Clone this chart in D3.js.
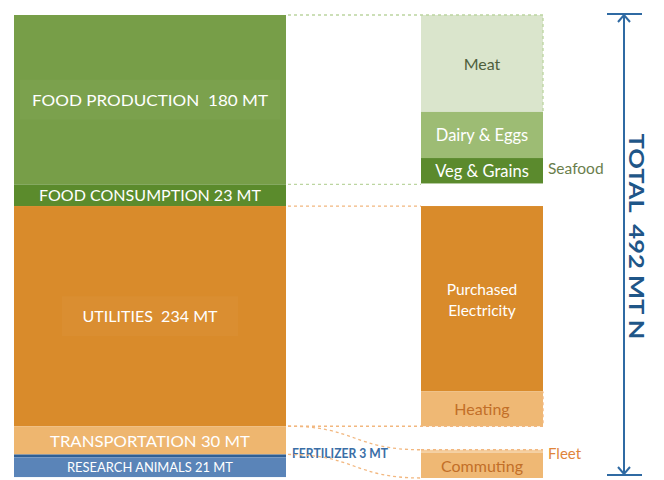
<!DOCTYPE html>
<html>
<head>
<meta charset="utf-8">
<script src="https://cdn.jsdelivr.net/npm/d3@7/dist/d3.min.js"></script>
<style>
  html, body { margin: 0; padding: 0; background: #ffffff; }
  svg { display: block; }
  text { font-family: "Lato", "Open Sans", "DejaVu Sans", sans-serif; white-space: pre; }
</style>
</head>
<body>
<svg id="chart" width="664" height="480"></svg>
<script>
// ---------------- DATA ----------------
const total = 492;
const totalLabel = "TOTAL  492 MT N";

const leftCategories = ["FOOD PRODUCTION", "FOOD CONSUMPTION", "UTILITIES", "TRANSPORTATION", "FERTILIZER", "RESEARCH ANIMALS"];
const leftValues = [180, 23, 234, 30, 3, 21];
const leftLabels = ["FOOD PRODUCTION  180 MT", "FOOD CONSUMPTION 23 MT", "UTILITIES  234 MT", "TRANSPORTATION 30 MT", "FERTILIZER 3 MT", "RESEARCH ANIMALS 21 MT"];

const foodSubCategories = ["Meat", "Dairy & Eggs", "Veg & Grains", "Seafood"];
const foodSubValues = [103, 49, 27, 1];

const utilSubCategories = ["Purchased Electricity", "Heating"];
const utilSubValues = [197, 37];

const transSubCategories = ["Fleet", "Commuting"];
const transSubValues = [3, 27];

(function () {
// ---------------- STYLE ----------------
const leftColors = {
  "FOOD PRODUCTION": "#779e48",
  "FOOD CONSUMPTION": "#5b8b2c",
  "UTILITIES": "#d98b2b",
  "TRANSPORTATION": "#eeb66f",
  "FERTILIZER": "#2f5f95",
  "RESEARCH ANIMALS": "#5a84b8"
};
const rightColors = {
  "Meat": "#dae5cc",
  "Dairy & Eggs": "#9dbc74",
  "Veg & Grains": "#5b8a2d",
  "Seafood": "#4e7d25",
  "Purchased Electricity": "#d98b2b",
  "Heating": "#efb874",
  "Fleet": "#f5cfa0",
  "Commuting": "#efb874"
};
const greenDash = "#bcd5a0";
const orangeDash = "#f2b77f";

// ---------------- LAYOUT ----------------
const svg = d3.select("#chart");
const y = d3.scaleLinear().domain([0, total]).range([15, 478]);
const leftX0 = 14, leftX1 = 286;
const rightX0 = 421, rightX1 = 543;

function stack(cats, vals, start) {
  let acc = start;
  return cats.map((c, i) => {
    const d = { cat: c, v: vals[i], y0: acc, y1: acc + vals[i] };
    acc += vals[i];
    return d;
  });
}

const leftStack = stack(leftCategories, leftValues, 0);
leftStack.forEach((d, i) => d.label = leftLabels[i]);
const byCat = Object.fromEntries(leftStack.map(d => [d.cat, d]));

const foodStack = stack(foodSubCategories, foodSubValues, byCat["FOOD PRODUCTION"].y0);
const utilStack = stack(utilSubCategories, utilSubValues, byCat["UTILITIES"].y0);
const transTotal = d3.sum(transSubValues);
const transStack = stack(transSubCategories, transSubValues, total - transTotal);
const rightStack = foodStack.concat(utilStack, transStack);

// ---------------- LEFT BAR ----------------
svg.append("g").selectAll("rect")
  .data(leftStack)
  .join("rect")
  .attr("x", leftX0)
  .attr("width", leftX1 - leftX0)
  .attr("y", d => y(d.y0))
  .attr("height", d => Math.max(1.5, y(d.y1) - y(d.y0)))
  .attr("fill", d => leftColors[d.cat]);

// subtle label boxes
const boxCats = ["FOOD PRODUCTION", "UTILITIES"];
const boxW = { "FOOD PRODUCTION": 260, "UTILITIES": 176 };
svg.append("g").selectAll("rect")
  .data(boxCats.map(c => byCat[c]))
  .join("rect")
  .attr("x", d => (leftX0 + leftX1) / 2 - boxW[d.cat] / 2)
  .attr("width", d => boxW[d.cat])
  .attr("y", d => y((d.y0 + d.y1) / 2) - 20)
  .attr("height", 40)
  .attr("fill", "#ffffff")
  .attr("opacity", 0.03);

// left labels
const leftLabelStyle = {
  "FOOD PRODUCTION": { size: 15.5, len: 236 },
  "FOOD CONSUMPTION": { size: 15, len: 222 },
  "UTILITIES": { size: 15.5, len: 135 },
  "TRANSPORTATION": { size: 16, len: 200 },
  "RESEARCH ANIMALS": { size: 13, len: 166 }
};
svg.append("g").selectAll("text")
  .data(leftStack.filter(d => leftLabelStyle[d.cat]))
  .join("text")
  .attr("x", (leftX0 + leftX1) / 2)
  .attr("y", d => y((d.y0 + d.y1) / 2))
  .attr("text-anchor", "middle")
  .attr("dominant-baseline", "central")
  .attr("fill", "#ffffff")
  .attr("font-size", d => leftLabelStyle[d.cat].size)
  .attr("textLength", d => leftLabelStyle[d.cat].len)
  .attr("lengthAdjust", "spacingAndGlyphs")
  .text(d => d.label);

// fertilizer label (outside)
const fert = byCat["FERTILIZER"];
svg.append("text")
  .attr("x", leftX1 + 6)
  .attr("y", y((fert.y0 + fert.y1) / 2) - 3)
  .attr("dominant-baseline", "central")
  .attr("fill", "#3a6ea6")
  .attr("font-size", 13)
  .attr("font-weight", "bold")
  .attr("textLength", 96)
  .attr("lengthAdjust", "spacingAndGlyphs")
  .text(fert.label);

// ---------------- RIGHT BAR ----------------
svg.append("g").selectAll("rect")
  .data(rightStack.filter(d => d.cat !== "Seafood"))
  .join("rect")
  .attr("x", rightX0)
  .attr("width", rightX1 - rightX0)
  .attr("y", d => y(d.y0))
  .attr("height", d => y(d.y1) - y(d.y0))
  .attr("fill", d => rightColors[d.cat]);

const rightLabelStyle = {
  "Meat": { fill: "#4f5f3c", size: 16 },
  "Dairy & Eggs": { fill: "#ffffff", size: 16.5 },
  "Veg & Grains": { fill: "#ffffff", size: 16.5 },
  "Purchased Electricity": { fill: "#ffffff", size: 15.5, lines: ["Purchased", "Electricity"] },
  "Heating": { fill: "#c26f28", size: 16 },
  "Commuting": { fill: "#c26f28", size: 16 }
};
const rl = svg.append("g").selectAll("text")
  .data(rightStack.filter(d => rightLabelStyle[d.cat]))
  .join("text")
  .attr("x", (rightX0 + rightX1) / 2)
  .attr("y", d => y((d.y0 + d.y1) / 2))
  .attr("text-anchor", "middle")
  .attr("dominant-baseline", "central")
  .attr("fill", d => rightLabelStyle[d.cat].fill)
  .attr("font-size", d => rightLabelStyle[d.cat].size);
rl.each(function(d) {
  const s = rightLabelStyle[d.cat];
  const t = d3.select(this);
  if (s.lines) {
    s.lines.forEach((ln, i) => {
      t.append("tspan")
        .attr("x", (rightX0 + rightX1) / 2)
        .attr("dy", i === 0 ? "-0.6em" : "1.35em")
        .text(ln);
    });
  } else {
    t.text(d.cat);
  }
});

// side labels
const sea = foodStack.find(d => d.cat === "Seafood");
svg.append("text")
  .attr("x", rightX1 + 5)
  .attr("y", y(sea.y0) - 15)
  .attr("dominant-baseline", "central")
  .attr("fill", "#6a7e4c")
  .attr("font-size", 15.5)
  .text("Seafood");
const fleet = transStack.find(d => d.cat === "Fleet");
svg.append("text")
  .attr("x", rightX1 + 5)
  .attr("y", y(fleet.y0) + 3)
  .attr("dominant-baseline", "central")
  .attr("fill", "#e0853a")
  .attr("font-size", 15)
  .text("Fleet");

// ---------------- CONNECTORS ----------------
const dash = svg.append("g").attr("fill", "none").attr("stroke-width", 1.3).attr("stroke-dasharray", "3,3");
const meat = foodStack[0];
dash.append("path")
  .attr("d", `M${leftX1 + 2},${y(0)} H${rightX1} V${y(meat.y1)}`)
  .attr("stroke", greenDash);
dash.append("path")
  .attr("d", `M${leftX1 + 2},${y(byCat["FOOD PRODUCTION"].y1)} H${rightX0}`)
  .attr("stroke", greenDash);
dash.append("path")
  .attr("d", `M${leftX1 + 2},${y(byCat["UTILITIES"].y0)} H${rightX0}`)
  .attr("stroke", orangeDash);
const heating = utilStack[1];
dash.append("path")
  .attr("d", `M${leftX1 + 2},${y(byCat["UTILITIES"].y1)} H${rightX1} V${y(heating.y0)}`)
  .attr("stroke", orangeDash);
const link = d3.linkHorizontal();
dash.append("path")
  .attr("d", link({ source: [leftX1 + 2, y(byCat["TRANSPORTATION"].y0)], target: [rightX0, y(fleet.y0)] }))
  .attr("stroke", orangeDash);
dash.append("path")
  .attr("d", link({ source: [leftX1 + 2, y(byCat["TRANSPORTATION"].y1)], target: [rightX0, y(total)] }))
  .attr("stroke", orangeDash);
dash.append("path")
  .attr("d", `M${rightX0},${y(fleet.y0)} H${rightX1}`)
  .attr("stroke", orangeDash);

// ---------------- TOTAL ARROW ----------------
const ax = 624;
const yTop = y(0) - 1, yBot = y(total) - 3;
const arr = svg.append("g").attr("stroke", "#2f6aa3").attr("stroke-width", 2).attr("fill", "none");
arr.append("line").attr("x1", ax).attr("x2", ax).attr("y1", yTop).attr("y2", yBot);
arr.append("line").attr("x1", ax - 17).attr("x2", ax + 18).attr("y1", yTop).attr("y2", yTop);
arr.append("line").attr("x1", ax - 17).attr("x2", ax + 18).attr("y1", yBot).attr("y2", yBot);
arr.append("path").attr("d", `M${ax - 6},${yTop + 8} L${ax},${yTop + 1} L${ax + 6},${yTop + 8}`);
arr.append("path").attr("d", `M${ax - 6},${yBot - 8} L${ax},${yBot - 1} L${ax + 6},${yBot - 8}`);

svg.append("text")
  .attr("transform", `translate(${ax + 13},${(yTop + yBot) / 2 - 8}) rotate(90)`)
  .attr("text-anchor", "middle")
  .attr("dominant-baseline", "central")
  .attr("fill", "#1f5688")
  .attr("font-size", 20)
  .attr("font-weight", "bold")
  .attr("textLength", 206)
  .attr("lengthAdjust", "spacingAndGlyphs")
  .text(totalLabel);
})();
</script>
</body>
</html>
